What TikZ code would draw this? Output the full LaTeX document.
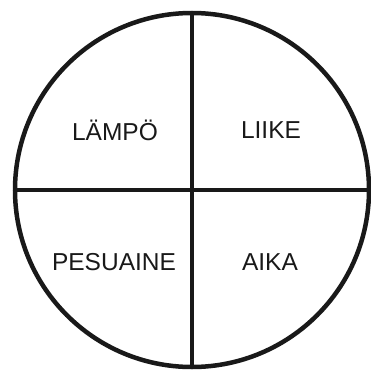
\documentclass[tikz,border=0pt]{standalone}
\usepackage{fontspec}
\setmainfont{Liberation Sans}
\usetikzlibrary{shapes.geometric}

\begin{document}
\begin{tikzpicture}[%
        x=1pt, y=-1pt,
        wheelline/.style={line width=4.5pt, draw=black!90},
        wheel/.style={circle, wheelline, minimum size=354pt, inner sep=0pt, outer sep=0pt},
        factor/.style={font=\fontsize{24.5}{28}\selectfont, text=black!90, inner sep=0pt}%
    ]
        \useasboundingbox (0, 0) rectangle (370, 372);

        \node[wheel] (wheel) at (192, 190) {};
        \coordinate (rim) at (372, 190);

        \draw[wheelline] (wheel.north) -- (wheel.south);
        \draw[wheelline] (wheel.west) -- (rim);

        \node[factor] (heat) at (115, 130) {LÄMPÖ};
        \node[factor] (motion) at (271, 130) {LIIKE};
        \node[factor] (soap) at (114, 262) {PESUAINE};
        \node[factor] (time) at (270, 262) {AIKA};
    \end{tikzpicture}
\end{document}
